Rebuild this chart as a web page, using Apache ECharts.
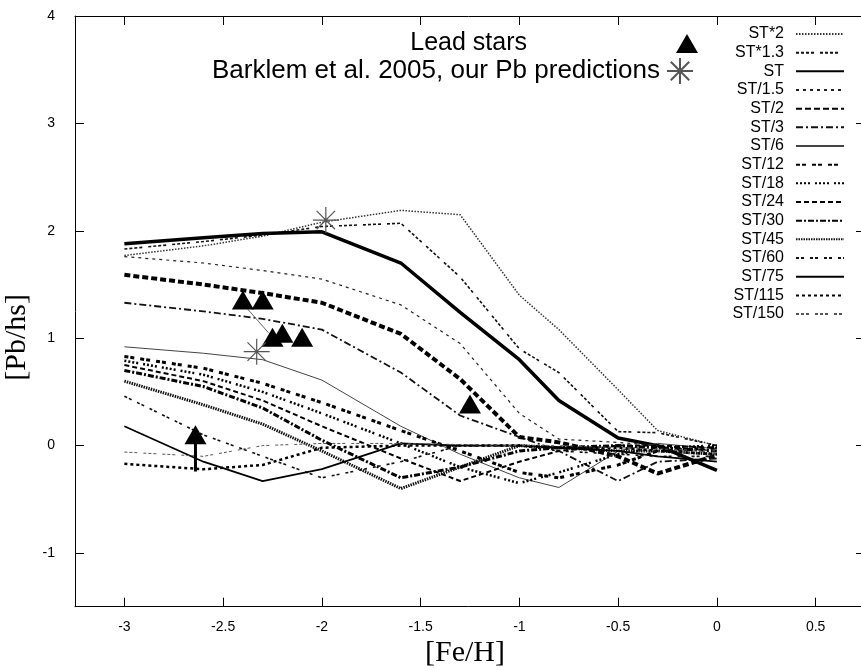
<!DOCTYPE html>
<html>
<head>
<meta charset="utf-8">
<script src="https://cdn.jsdelivr.net/npm/echarts@6/dist/echarts.min.js"></script>
<style>html,body{margin:0;padding:0;background:#fff}#chart{width:861px;height:671px}</style>
</head>
<body>
<div id="chart"></div>
<script>
// ---- data ----
const feH = [-3, -2.6, -2.3, -2, -1.6, -1.3, -1, -0.8, -0.5, -0.3, 0];
const seriesNames = ['ST*2','ST*1.3','ST','ST/1.5','ST/2','ST/3','ST/6','ST/12','ST/18','ST/24','ST/30','ST/45','ST/60','ST/75','ST/115','ST/150'];
const stX2  = [1.77, 1.86, 1.95, 2.08, 2.19, 2.15, 1.40, 1.08, 0.52, 0.14, 0.00];
const stX13 = [1.83, 1.90, 1.96, 2.04, 2.07, 1.57, 0.90, 0.68, 0.13, 0.12, 0.00];
const st    = [1.88, 1.935, 1.975, 1.99, 1.70, 1.24, 0.80, 0.42, 0.07, 0.00, -0.23];
const st15  = [1.76, 1.70, 1.63, 1.55, 1.31, 0.95, 0.30, 0.06, 0.03, 0.00, -0.05];
const st2   = [1.59, 1.50, 1.42, 1.33, 1.04, 0.62, 0.08, 0.03, -0.10, -0.26, -0.09];
const st3   = [1.33, 1.25, 1.18, 1.08, 0.68, 0.28, 0.08, -0.05, -0.33, -0.15, -0.12];
const st6   = [0.92, 0.86, 0.80, 0.61, 0.18, -0.08, -0.30, -0.39, -0.05, 0.02, -0.03];
const st12  = [0.83, 0.72, 0.58, 0.40, 0.14, -0.05, -0.25, -0.30, -0.18, -0.05, -0.02];
const st18  = [0.79, 0.66, 0.50, 0.30, 0.02, -0.20, -0.35, -0.25, -0.08, -0.02, 0.00];
const st24  = [0.75, 0.60, 0.42, 0.18, -0.12, -0.33, -0.15, -0.05, 0.00, 0.00, -0.02];
const st30  = [0.70, 0.55, 0.35, 0.05, -0.30, -0.20, -0.05, -0.02, 0.00, -0.02, -0.05];
const st45  = [0.60, 0.38, 0.20, -0.05, -0.40, -0.20, 0.00, -0.02, -0.05, -0.05, -0.08];
const st60  = [0.46, 0.10, -0.10, -0.30, -0.15, 0.00, 0.00, -0.05, -0.08, -0.10, -0.10];
const st75  = [0.18, -0.15, -0.33, -0.22, 0.02, 0.00, 0.00, -0.02, -0.05, -0.10, -0.15];
const st115 = [-0.17, -0.22, -0.18, -0.02, 0.00, 0.00, 0.00, -0.02, -0.02, -0.05, -0.08];
const st150 = [-0.06, -0.10, 0.00, 0.02, 0.02, 0.01, 0.00, 0.00, -0.02, -0.03, -0.05];
const seriesValues = [stX2, stX13, st, st15, st2, st3, st6, st12, st18, st24, st30, st45, st60, st75, st115, st150];

const leadName = 'Lead stars';
const leadFe = [-2.40, -2.30, -2.25, -2.20, -2.10, -1.25, -2.64];
const leadPb = [1.355, 1.355, 1.01, 1.045, 1.01, 0.387, 0.10];
const barklemName = 'Barklem et al. 2005, our Pb predictions';
const barklemFe = [-1.98, -2.33];
const barklemPb = [2.10, 0.875];
const linkFe = [-2.38, -2.27];
const linkPb = [1.28, 1.05];
const limitFe = [-2.64, -2.64];
const limitPb = [0.10, -0.24];

const xTicks = [-3, -2.5, -2, -1.5, -1, -0.5, 0, 0.5];
const yTicks = [-1, 0, 1, 2, 3, 4];

// ---- styles ----
const lineStyles = [
  {color:'#333', width:1.5, type:[1.5,1.5]},
  {color:'#111', width:1.6, type:[3,2,3,2,3,2,3,6]},
  {color:'#000', width:3.5, type:'solid'},
  {color:'#222', width:1.2, type:[3,4]},
  {color:'#000', width:4, type:[6,3]},
  {color:'#111', width:1.8, type:[7,3,2,3]},
  {color:'#444', width:1, type:'solid'},
  {color:'#000', width:3, type:[4,2,4,6]},
  {color:'#000', width:2.5, type:[2,2,2,2,2,2,2,5]},
  {color:'#000', width:2, type:[5,3]},
  {color:'#000', width:3, type:[6,2,2,2]},
  {color:'#111', width:3, type:[1.5,1]},
  {color:'#111', width:1.6, type:[3,2,3,6]},
  {color:'#000', width:1.8, type:'solid'},
  {color:'#000', width:2.5, type:[3,3]},
  {color:'#555', width:1, type:[3,2,3,2,3,6]}
];
const sans = '"Liberation Sans", Arial, Helvetica, sans-serif';
const serif = '"Liberation Serif", "Times New Roman", serif';
const asteriskPath = 'path://M0,12 L24,12 M12,0 L12,24 M3.5,3.5 L20.5,20.5 M20.5,3.5 L3.5,20.5';

const zip = (a, b) => a.map((v, i) => [v, b[i]]);

const series = seriesNames.map((n, i) => ({
  name: n, type: 'line', data: zip(feH, seriesValues[i]),
  symbol: 'none', silent: true, z: 2,
  color: lineStyles[i].color,
  lineStyle: lineStyles[i]
}));
series.push({
  name: 'link', type: 'line', data: zip(linkFe, linkPb), symbol: 'none', silent: true, z: 3,
  lineStyle: {color: '#666', width: 1}
});
series.push({
  name: 'limit', type: 'line', data: zip(limitFe, limitPb), symbol: 'none', silent: true, z: 3,
  lineStyle: {color: '#000', width: 3}
});
series.push({
  name: leadName, type: 'scatter', data: zip(leadFe, leadPb), symbol: 'triangle',
  symbolSize: [22, 19], z: 5, silent: true,
  itemStyle: {color: '#000', opacity: 1}
});
series.push({
  name: barklemName, type: 'scatter', data: zip(barklemFe, barklemPb), symbol: asteriskPath,
  symbolSize: [26, 26], symbolKeepAspect: true, z: 6, silent: true,
  itemStyle: {color: 'rgba(0,0,0,0)', borderColor: '#555', borderWidth: 1.2, opacity: 1}
});

const axisCommonX = {
  type: 'value', min: -3.25, max: 0.75,
  axisLine: {show: true, onZero: false, lineStyle: {color: '#000', width: 1}},
  axisTick: {show: true, inside: true, length: 9, customValues: xTicks, lineStyle: {color: '#000'}},
  splitLine: {show: false}
};
const axisCommonY = {
  type: 'value', min: -1.5, max: 4,
  axisLine: {show: true, onZero: false, lineStyle: {color: '#000', width: 1}},
  axisTick: {show: true, inside: true, length: 9, customValues: yTicks, lineStyle: {color: '#000'}},
  splitLine: {show: false}
};

const option = {
  backgroundColor: '#fff',
  animation: false,
  grid: {left: 75, top: 16, width: 790, height: 590.7, containLabel: false, outerBoundsMode: 'none'},
  xAxis: [
    Object.assign({}, axisCommonX, {
      position: 'bottom',
      axisLabel: {customValues: xTicks, margin: 13, fontSize: 14, color: '#000', fontFamily: sans},
      name: '[Fe/H]', nameLocation: 'middle', nameGap: 31,
      nameTextStyle: {fontFamily: serif, fontSize: 30, color: '#000', padding: [0, 10, 0, 0]}
    }),
    Object.assign({}, axisCommonX, {position: 'top', axisLabel: {show: false}})
  ],
  yAxis: [
    Object.assign({}, axisCommonY, {
      position: 'left',
      axisLabel: {customValues: yTicks, margin: 20, fontSize: 14, color: '#000', fontFamily: sans},
      name: '[Pb/hs]', nameLocation: 'middle', nameGap: 36,
      nameTextStyle: {fontFamily: serif, fontSize: 30, color: '#000', padding: [0, 52, 0, 0]}
    }),
    Object.assign({}, axisCommonY, {position: 'right', axisLabel: {show: false}})
  ],
  legend: [
    {
      data: [leadName], orient: 'vertical', align: 'right', right: 163, top: 31, padding: 0,
      itemWidth: 22, itemHeight: 19, selectedMode: false,
      textStyle: {fontFamily: sans, fontSize: 25, color: '#000', padding: [0, 144, 0, 0]}
    },
    {
      data: [barklemName], orient: 'vertical', align: 'right', right: 167, top: 57, padding: 0,
      itemWidth: 26, itemHeight: 26, selectedMode: false,
      textStyle: {fontFamily: sans, fontSize: 26, color: '#000', padding: [0, 2, 0, 0]}
    },
    {
      data: seriesNames, orient: 'vertical', align: 'right', right: 16, top: 26, padding: 0,
      itemWidth: 48, itemHeight: 14, itemGap: 2.67, selectedMode: false,
      itemStyle: {color: 'rgba(0,0,0,0)', borderWidth: 0, opacity: 0},
      textStyle: {fontFamily: sans, fontSize: 16, color: '#000', lineHeight: 14, padding: [0, 7, 0, 0]}
    }
  ],
  series: series
};

const chart = echarts.init(document.getElementById('chart'), null, {renderer: 'canvas'});
chart.setOption(option);
</script>
</body>
</html>
